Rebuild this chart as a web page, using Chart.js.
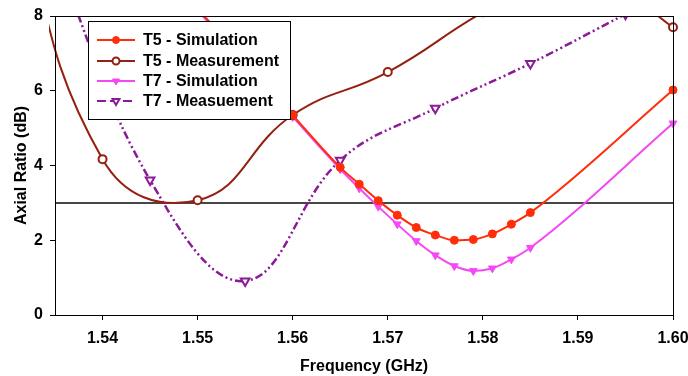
<!DOCTYPE html>
<html>
<head>
<meta charset="utf-8">
<title>Axial Ratio</title>
<script src="https://cdn.jsdelivr.net/npm/chart.js@4.4.1/dist/chart.umd.min.js"></script>
<style>
  html, body { margin: 0; padding: 0; background: #fff; }
  #wrap { width: 688px; height: 376px; }
</style>
</head>
<body>
<div id="wrap"><canvas id="line-chartcanvas" width="688" height="376"></canvas></div>
<script>
// data
var t5SimFreq = [1.55, 1.56, 1.565, 1.567, 1.569, 1.571, 1.573, 1.575, 1.577, 1.579, 1.581, 1.583, 1.585, 1.60];
var t5SimAR   = [8.2, 5.35, 3.95, 3.5, 3.06, 2.67, 2.34, 2.14, 2.0, 2.02, 2.17, 2.43, 2.74, 6.02];

var t5MeasFreq = [1.53, 1.54, 1.55, 1.56, 1.57, 1.58, 1.59, 1.60];
var t5MeasAR   = [12.0, 4.17, 3.07, 5.35, 6.5, 8.1, 9.4, 7.7];

var t7SimFreq = [1.55, 1.56, 1.565, 1.567, 1.569, 1.571, 1.573, 1.575, 1.577, 1.579, 1.581, 1.583, 1.585, 1.60];
var t7SimAR   = [8.15, 5.3, 3.9, 3.39, 2.9, 2.43, 1.98, 1.6, 1.31, 1.18, 1.25, 1.49, 1.8, 5.13];

var t7MeasFreq = [1.535, 1.545, 1.555, 1.565, 1.575, 1.585, 1.595];
var t7MeasAR   = [9.6, 3.61, 0.91, 4.14, 5.53, 6.73, 8.05];

var xTickValues = [1.54, 1.55, 1.56, 1.57, 1.58, 1.59, 1.60];
var yTickValues = [0, 2, 4, 6, 8];
var threshold = 3;

var seriesNames = ["T5 - Simulation", "T5 - Measurement", "T7 - Simulation", "T7 - Measuement"];

function pairs(xs, ys) {
  var out = [];
  for (var i in xs) out.push({x: xs[i], y: ys[i]});
  return out;
}

var FONT = "'Liberation Sans', Arial, sans-serif";
var dashDotDot = [8, 3, 2, 3, 2, 3];
var clipBox = {left: 6, top: 0, right: 7, bottom: 6};

var data = {
  datasets: [
    {
      label: seriesNames[0],
      data: pairs(t5SimFreq, t5SimAR),
      borderColor: "#ff2d0a",
      backgroundColor: "#ff2d0a",
      borderWidth: 2,
      pointStyle: "circle",
      pointRadius: 4,
      pointBorderWidth: 1,
      cubicInterpolationMode: "monotone",
      clip: clipBox
    },
    {
      label: seriesNames[1],
      data: pairs(t5MeasFreq, t5MeasAR),
      borderColor: "#94200f",
      backgroundColor: "#ffffff",
      borderWidth: 2,
      pointStyle: "circle",
      pointRadius: 4,
      pointBorderWidth: 2,
      tension: 0.45,
      clip: clipBox
    },
    {
      label: seriesNames[2],
      data: pairs(t7SimFreq, t7SimAR),
      borderColor: "#f548f5",
      backgroundColor: "#f548f5",
      borderWidth: 2,
      pointStyle: "triangle",
      pointRotation: 180,
      pointRadius: 4.5,
      pointBorderWidth: 1,
      cubicInterpolationMode: "monotone",
      clip: clipBox
    },
    {
      label: seriesNames[3],
      data: pairs(t7MeasFreq, t7MeasAR),
      borderColor: "#8b1a98",
      backgroundColor: "#ffffff",
      borderWidth: 2.5,
      borderDash: dashDotDot,
      pointStyle: "triangle",
      pointRotation: 180,
      pointRadius: 5,
      pointBorderWidth: 2,
      tension: 0.4,
      clip: clipBox
    }
  ]
};

var origDrawPoint = Chart.helpers.drawPoint;

// 3 dB reference line, frame and legend box
var extras = {
  id: "extras",
  beforeDatasetsDraw: function(chart) {
    var c = chart.ctx, a = chart.chartArea;
    var y = chart.scales.y.getPixelForValue(threshold);
    c.save();
    c.strokeStyle = "#474747";
    c.lineWidth = 2;
    c.beginPath();
    c.moveTo(a.left, y);
    c.lineTo(a.right, y);
    c.stroke();
    c.restore();
  },
  afterDraw: function(chart) {
    var c = chart.ctx, a = chart.chartArea;
    c.save();
    c.strokeStyle = "#000";
    c.lineWidth = 1;
    c.strokeRect(a.left + 0.5, a.top + 0.5, a.right - a.left, a.bottom - a.top);

    // legend
    var bx = 88, by = 21, bw = 202, bh = 98;
    c.fillStyle = "#fff";
    c.fillRect(bx, by, bw, bh);
    c.strokeRect(bx + 0.5, by + 0.5, bw, bh);
    var rows = [40, 61, 81, 101];
    chart.data.datasets.forEach(function(ds, i) {
      var y = rows[i];
      c.save();
      c.strokeStyle = ds.borderColor;
      c.lineWidth = 2;
      if (ds.borderDash) c.setLineDash([9, 4]);
      c.beginPath();
      c.moveTo(97, y);
      c.lineTo(135, y);
      c.stroke();
      c.restore();

      c.save();
      c.fillStyle = ds.backgroundColor;
      c.strokeStyle = ds.borderColor;
      c.lineWidth = ds.pointBorderWidth;
      origDrawPoint(c, {
        pointStyle: ds.pointStyle,
        rotation: ds.pointRotation || 0,
        radius: ds.pointStyle === "triangle" ? 4 : 3.5,
        borderWidth: ds.pointBorderWidth
      }, 116, y);
      c.restore();

      c.font = "bold 16px " + FONT;
      c.textBaseline = "middle";
      c.textAlign = "left";
      c.fillStyle = "#000";
      c.fillText(ds.label, 143, y + 1);
    });
    c.restore();
  }
};

var options = {
  responsive: false,
  animation: false,
  layout: { padding: { left: 0, top: 16, right: 15, bottom: 0 } },
  plugins: {
    legend: { display: false },
    tooltip: { enabled: false }
  },
  scales: {
    x: {
      type: "linear",
      min: 1.535,
      max: 1.60,
      afterBuildTicks: function(scale) {
        scale.ticks = xTickValues.map(function(v) { return {value: v}; });
      },
      afterFit: function(scale) {
        scale.height = 61;
        scale.paddingLeft = 0;
        scale.paddingRight = 0;
      },
      grid: { display: true, drawOnChartArea: false, drawTicks: true, tickLength: 5, color: "#000" },
      border: { display: true, color: "#000", width: 1 },
      ticks: {
        padding: 9,
        color: "#000",
        maxRotation: 0,
        font: { family: FONT, size: 16, weight: "bold" },
        callback: function(v) { return v.toFixed(2); }
      },
      title: {
        display: true,
        text: "Frequency (GHz)",
        color: "#000",
        padding: 0,
        font: { family: FONT, size: 16, weight: "bold" }
      }
    },
    y: {
      min: 0,
      max: 8,
      afterBuildTicks: function(scale) {
        scale.ticks = yTickValues.map(function(v) { return {value: v}; });
      },
      afterFit: function(scale) {
        scale.width = 55;
        scale.paddingTop = 0;
        scale.paddingBottom = 0;
      },
      grid: { display: true, drawOnChartArea: false, drawTicks: true, tickLength: 5, color: "#000" },
      border: { display: true, color: "#000", width: 1 },
      ticks: {
        padding: 7,
        color: "#000",
        font: { family: FONT, size: 16, weight: "bold" }
      },
      title: {
        display: true,
        text: "Axial Ratio (dB)",
        color: "#000",
        padding: 12,
        font: { family: FONT, size: 16, weight: "bold" }
      }
    }
  }
};

var ctx = document.getElementById("line-chartcanvas");
var chart = new Chart(ctx, {
  type: "line",
  data: data,
  options: options,
  plugins: [extras]
});
</script>
</body>
</html>
